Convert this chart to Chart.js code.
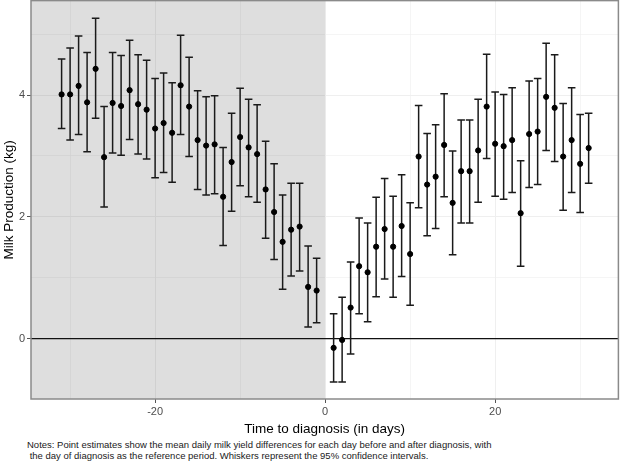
<!DOCTYPE html>
<html>
<head>
<meta charset="utf-8">
<script src="https://cdn.jsdelivr.net/npm/chart.js@4"></script>
<style>
  body { margin: 0; background: #fff; font-family: 'Liberation Sans', Arial, sans-serif; overflow: hidden; }
  #wrap { position: relative; top: -3px; width: 622px; height: 442px; }
  #notes { position: absolute; left: 27px; top: 440px; font-size: 9.5px; line-height: 10.5px; color: #1a1a1a; white-space: pre; }
</style>
</head>
<body>
<div id="wrap"><canvas id="chart"></canvas></div>
<div id="notes">Notes: Point estimates show the mean daily milk yield differences for each day before and after diagnosis, with
 the day of diagnosis as the reference period. Whiskers represent the 95% confidence intervals.</div>
<script>
// --- Data ---
const days = [-31, -30, -29, -28, -27, -26, -25, -24, -23, -22, -21, -20, -19, -18, -17, -16,
    -15, -14, -13, -12, -11, -10, -9, -8, -7, -6, -5, -4, -3, -2, -1,
    1, 2, 3, 4, 5, 6, 7, 8, 9, 10, 11, 12, 13, 14, 15, 16,
    17, 18, 19, 20, 21, 22, 23, 24, 25, 26, 27, 28, 29, 30, 31];

const estimates = [4.01, 4.01, 4.15, 3.88, 4.43, 2.98, 3.87, 3.82, 4.08, 3.85, 3.76, 3.45, 3.54, 3.38, 4.16, 3.81,
    3.26, 3.17, 3.19, 2.33, 2.90, 3.31, 3.14, 3.03, 2.45, 2.08, 1.59, 1.79, 1.84, 0.85, 0.79,
    -0.15, -0.02, 0.51, 1.19, 1.09, 1.51, 1.80, 1.51, 1.85, 1.39, 2.99, 2.53, 2.66, 3.18, 2.23, 2.75,
    2.75, 3.09, 3.81, 3.20, 3.16, 3.26, 2.06, 3.36, 3.40, 3.97, 3.79, 2.99, 3.26, 2.87, 3.13];

const upper = [4.59, 4.77, 4.97, 4.70, 5.26, 3.81, 4.70, 4.65, 4.90, 4.66, 4.57, 4.27, 4.36, 4.20, 4.98, 4.62,
    4.07, 3.97, 3.99, 3.14, 3.70, 4.11, 3.93, 3.84, 3.24, 2.87, 2.36, 2.55, 2.55, 1.52, 1.32,
    0.41, 0.68, 1.26, 1.98, 1.90, 2.32, 2.63, 2.34, 2.69, 2.23, 3.83, 3.37, 3.51, 4.02, 3.08, 3.59,
    3.59, 3.93, 4.67, 4.05, 4.01, 4.12, 2.92, 4.23, 4.27, 4.85, 4.66, 3.86, 4.12, 3.68, 3.70];

const lower = [3.45, 3.26, 3.35, 3.07, 3.62, 2.16, 3.05, 3.01, 3.27, 3.03, 2.95, 2.64, 2.73, 2.57, 3.35, 2.99,
    2.45, 2.36, 2.38, 1.53, 2.09, 2.51, 2.33, 2.24, 1.65, 1.30, 0.81, 1.03, 1.11, 0.19, 0.26,
    -0.71, -0.71, -0.25, 0.41, 0.28, 0.69, 0.98, 0.68, 1.02, 0.55, 2.15, 1.69, 1.81, 2.33, 1.38, 1.90,
    1.90, 2.24, 2.96, 2.34, 2.29, 2.40, 1.19, 2.48, 2.53, 3.09, 2.91, 2.11, 2.40, 2.07, 2.55];

const xMajorTicks = [-20, 0, 20];
const yMajorTicks = [0, 2, 4];

// --- Panel decorations: shaded pre-diagnosis area, zero line, whiskers, border ---
const panelPlugin = {
    id: 'panel',
    beforeDatasetsDraw(chart) {
        const { ctx, chartArea: a, scales: { x, y } } = chart;
        ctx.save();
        // pre-diagnosis shading
        ctx.fillStyle = 'rgba(0,0,0,0.13)';
        const x0 = x.getPixelForValue(0);
        ctx.fillRect(a.left, a.top, x0 - a.left, a.bottom - a.top);
        // reference line at 0
        const y0 = y.getPixelForValue(0);
        ctx.strokeStyle = '#111';
        ctx.lineWidth = 1.2;
        ctx.beginPath();
        ctx.moveTo(a.left, y0);
        ctx.lineTo(a.right, y0);
        ctx.stroke();
        // whiskers
        ctx.strokeStyle = '#1a1a1a';
        ctx.lineWidth = 1.5;
        days.forEach((d, i) => {
            const px = x.getPixelForValue(d);
            const top = y.getPixelForValue(upper[i]);
            const bot = y.getPixelForValue(lower[i]);
            ctx.beginPath();
            ctx.moveTo(px, top);
            ctx.lineTo(px, bot);
            ctx.moveTo(px - 3.8, top);
            ctx.lineTo(px + 3.8, top);
            ctx.moveTo(px - 3.8, bot);
            ctx.lineTo(px + 3.8, bot);
            ctx.stroke();
        });
        ctx.restore();
    },
    afterDraw(chart) {
        const { ctx, chartArea: a } = chart;
        ctx.save();
        ctx.strokeStyle = '#8a8a8a';
        ctx.lineWidth = 1.5;
        ctx.strokeRect(a.left, a.top, a.right - a.left, a.bottom - a.top);
        ctx.restore();
    }
};

const isMajor = (list, v) => list.includes(v);

new Chart(document.getElementById('chart'), {
    type: 'scatter',
    data: {
        datasets: [{
            data: days.map((d, i) => ({ x: d, y: estimates[i] })),
            backgroundColor: '#000',
            borderColor: '#000',
            pointRadius: 2.6,
            pointHoverRadius: 2.6
        }]
    },
    options: {
        responsive: true,
        maintainAspectRatio: false,
        animation: false,
        layout: { padding: 0 },
        plugins: {
            legend: { display: false },
            tooltip: { enabled: false }
        },
        scales: {
            x: {
                type: 'linear',
                min: -34.6,
                max: 34.5,
                afterFit: (s) => { s.height = 40; s.paddingLeft = 0; s.paddingRight = 0; },
                border: { display: false },
                grid: {
                    color: '#efefef',
                    lineWidth: (c) => isMajor(xMajorTicks, c.tick && c.tick.value) ? 1 : 0.6,
                    tickColor: (c) => isMajor(xMajorTicks, c.tick && c.tick.value) ? '#555' : 'rgba(0,0,0,0)',
                    tickLength: 4
                },
                ticks: {
                    stepSize: 10,
                    includeBounds: false,
                    maxRotation: 0,
                    padding: 2,
                    color: '#4d4d4d',
                    font: { family: 'Liberation Sans', size: 11 },
                    callback: (v) => isMajor(xMajorTicks, v) ? String(v) : ''
                },
                title: {
                    display: true,
                    text: 'Time to diagnosis (in days)',
                    color: '#000',
                    font: { family: 'Liberation Sans', size: 13.5 },
                    padding: { top: 0, bottom: 2 }
                }
            },
            y: {
                min: -0.99,
                max: 5.55,
                afterFit: (s) => { s.width = 31; s.paddingTop = 0; s.paddingBottom = 0; },
                border: { display: false },
                grid: {
                    color: '#efefef',
                    lineWidth: (c) => isMajor(yMajorTicks, c.tick && c.tick.value) ? 1 : 0.6,
                    tickColor: (c) => isMajor(yMajorTicks, c.tick && c.tick.value) ? '#555' : 'rgba(0,0,0,0)',
                    tickLength: 4
                },
                ticks: {
                    stepSize: 1,
                    includeBounds: false,
                    padding: 2,
                    color: '#4d4d4d',
                    font: { family: 'Liberation Sans', size: 11 },
                    callback: (v) => isMajor(yMajorTicks, v) ? String(v) : ''
                },
                title: {
                    display: true,
                    text: 'Milk Production (kg)',
                    color: '#000',
                    font: { family: 'Liberation Sans', size: 13.5 },
                    padding: { top: 1.5, bottom: 0 }
                }
            }
        }
    },
    plugins: [panelPlugin]
});
</script>
</body>
</html>
